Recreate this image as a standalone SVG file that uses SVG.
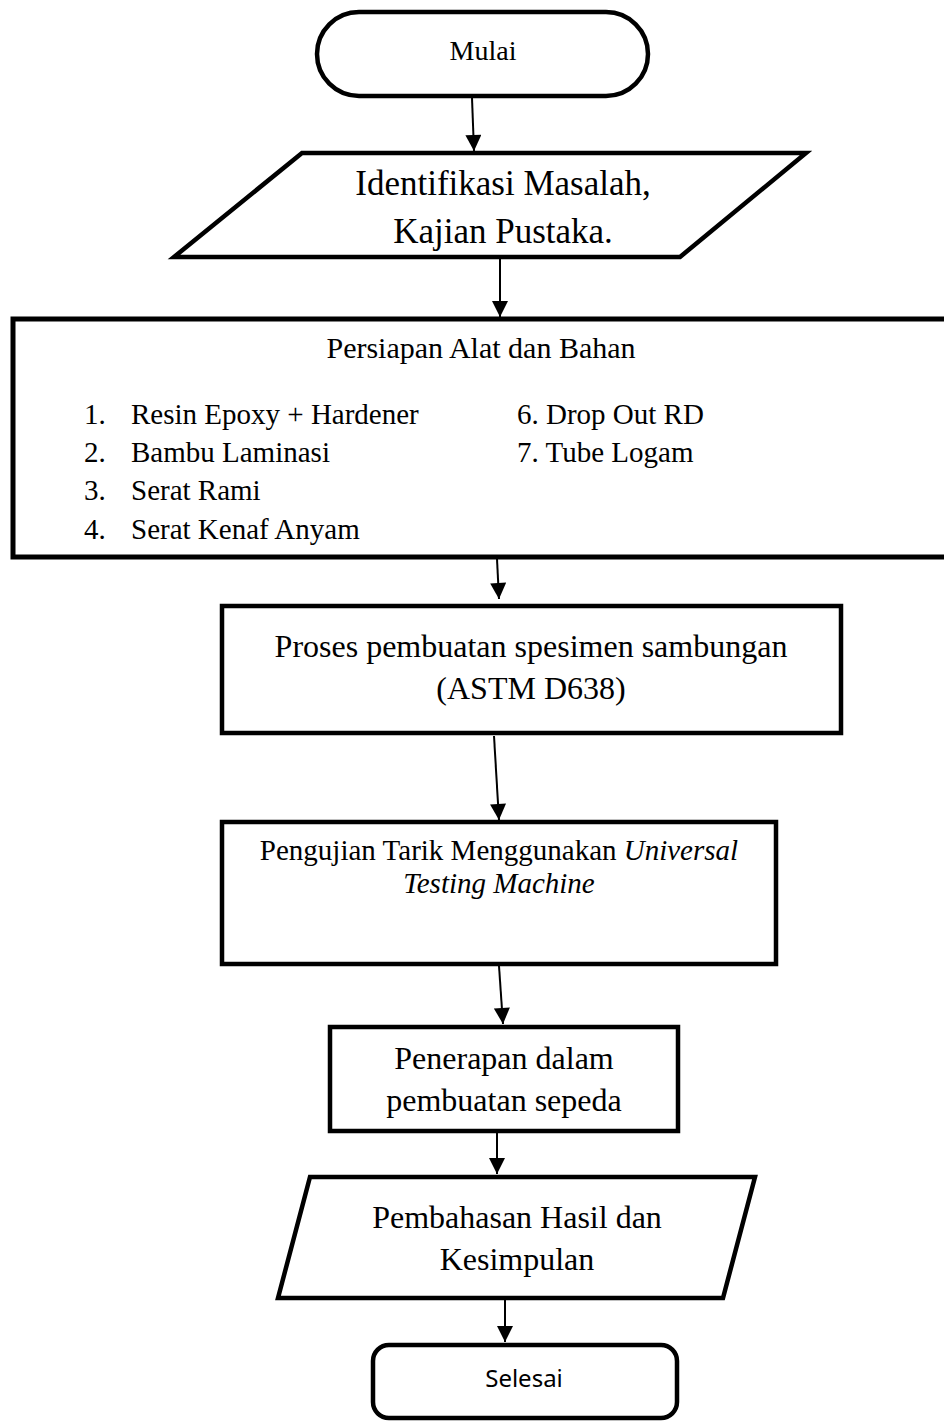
<svg xmlns="http://www.w3.org/2000/svg" width="944" height="1423" viewBox="0 0 944 1423">
<style>
.shape{fill:#fff;stroke:#000;stroke-width:4.5;stroke-linejoin:miter}
.big{stroke-width:5}
.t{font-family:"Liberation Serif","Times New Roman",serif;fill:#000}
.c{text-anchor:middle}
.s{font-family:"Noto Sans","Open Sans",sans-serif;fill:#000;text-anchor:middle}
.conn line{stroke:#000;stroke-width:2;marker-end:url(#ah)}
</style>
<defs>
<marker id="ah" markerUnits="userSpaceOnUse" markerWidth="18" markerHeight="16" viewBox="0 0 16 15" refX="15" refY="7.5" orient="auto">
<path d="M0,0 L15,7.5 L0,15 Z" fill="#000"/>
</marker>
</defs>
<rect width="944" height="1423" fill="#fff"/>
<g id="mulai">
<rect class="shape" x="317" y="12" width="331" height="84" rx="42" ry="42"/>
<text class="t c" x="483" y="60" font-size="28">Mulai</text>
</g>
<g id="identifikasi">
<polygon class="shape" points="302,153 806,153 680,257 174,257"/>
<text class="t c" x="503" y="195" font-size="35">Identifikasi Masalah,</text>
<text class="t c" x="503" y="243" font-size="35">Kajian Pustaka.</text>
</g>
<g id="persiapan">
<rect class="shape big" x="13" y="319" width="945" height="238"/>
<text class="t c" x="481" y="358" font-size="30">Persiapan Alat dan Bahan</text>
<g class="t" font-size="29">
<text x="84" y="424">1.</text><text x="131" y="424">Resin Epoxy + Hardener</text>
<text x="84" y="462">2.</text><text x="131" y="462">Bambu Laminasi</text>
<text x="84" y="500">3.</text><text x="131" y="500">Serat Rami</text>
<text x="84" y="539">4.</text><text x="131" y="539">Serat Kenaf Anyam</text>
<text x="517" y="424">6. Drop Out RD</text>
<text x="517" y="462">7. Tube Logam</text>
</g>
</g>
<g id="proses">
<rect class="shape" x="222" y="606" width="619" height="127"/>
<text class="t c" x="531" y="657" font-size="32">Proses pembuatan spesimen sambungan</text>
<text class="t c" x="531" y="699" font-size="32">(ASTM D638)</text>
</g>
<g id="pengujian">
<rect class="shape" x="222" y="822" width="554" height="142"/>
<text class="t c" x="499" y="860" font-size="29">Pengujian Tarik Menggunakan <tspan font-style="italic">Universal</tspan></text>
<text class="t c" x="499" y="893" font-size="29" font-style="italic">Testing Machine</text>
</g>
<g id="penerapan">
<rect class="shape" x="330" y="1027" width="348" height="104"/>
<text class="t c" x="504" y="1069" font-size="32">Penerapan dalam</text>
<text class="t c" x="504" y="1111" font-size="32">pembuatan sepeda</text>
</g>
<g id="pembahasan">
<polygon class="shape" points="310,1177 755,1177 723,1298 278,1298"/>
<text class="t c" x="517" y="1228" font-size="32">Pembahasan Hasil dan</text>
<text class="t c" x="517" y="1270" font-size="32">Kesimpulan</text>
</g>
<g id="selesai">
<rect class="shape" x="373" y="1345" width="304" height="73" rx="16" ry="16"/>
<text class="s" x="524" y="1387" font-size="24">Selesai</text>
</g>
<g id="connectors" class="conn">
<line x1="472" y1="98" x2="474" y2="151"/>
<line x1="500" y1="259" x2="500" y2="317"/>
<line x1="497" y1="559" x2="499" y2="599"/>
<line x1="494" y1="736" x2="499" y2="820"/>
<line x1="499" y1="966" x2="503" y2="1024"/>
<line x1="497" y1="1133" x2="497" y2="1174"/>
<line x1="505" y1="1300" x2="505" y2="1342"/>
</g>
</svg>
